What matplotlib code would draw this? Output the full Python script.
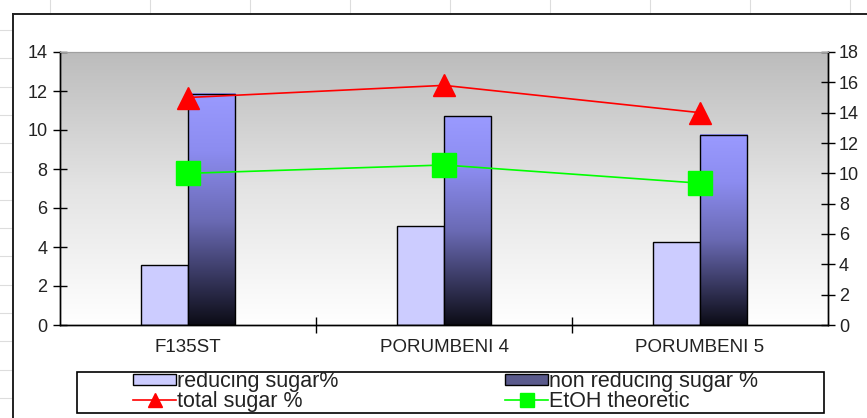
import matplotlib.pyplot as plt
import numpy as np
from matplotlib.colors import LinearSegmentedColormap
from matplotlib.lines import Line2D
from matplotlib.patches import Patch, Rectangle

plt.rcParams['font.family'] = ['Liberation Sans', 'DejaVu Sans']

# data
categories = ['F135ST', 'PORUMBENI 4', 'PORUMBENI 5']
reducing = [3.1, 5.1, 4.25]
non_reducing = [11.85, 10.7, 9.75]
total_sugar = [15.0, 15.8, 14.0]
etoh = [10.0, 10.55, 9.35]
left_ticks = list(range(0, 15, 2))
right_ticks = list(range(0, 19, 2))

W, H = 867, 418
fig = plt.figure(figsize=(W / 100, H / 100), dpi=100)


def fx(px):
    return px / W


def fy(py):
    return 1 - py / H


# spreadsheet cells behind the chart
for gx in range(50, 870, 100):
    fig.add_artist(Line2D([fx(gx), fx(gx)], [fy(0), fy(14)], color='#dddddd', lw=0.8))
for gy in np.arange(30, 418, 28.3):
    fig.add_artist(Line2D([fx(0), fx(12)], [fy(gy), fy(gy)], color='#dddddd', lw=0.8))
# chart area border
fig.add_artist(Line2D([fx(13), fx(867)], [fy(14), fy(14)], color='#202020', lw=1.4))
fig.add_artist(Line2D([fx(13), fx(13)], [fy(14), fy(418)], color='#202020', lw=1.4))

ax = fig.add_axes([fx(60), fy(325), fx(828) - fx(60), fy(52) - fy(325)])
ax2 = ax.twinx()

x = np.arange(len(categories))
bw = 0.184
grad = np.linspace(0, 1, 256).reshape(-1, 1)

# plot area gradient
bg = LinearSegmentedColormap.from_list('bg', ['#ffffff', '#e4e4e4', '#bcbcbc'])
ax.imshow(grad, cmap=bg, aspect='auto', extent=[-0.5, 2.5, 0, 14],
          origin='lower', zorder=0, interpolation='bilinear')

ax.bar(x - bw / 2, reducing, bw, color='#ccccff', edgecolor='black', lw=1, zorder=2)

barcmap = LinearSegmentedColormap.from_list(
    'bar', [(0, '#0c0c16'), (0.45, '#6a6ab4'), (0.75, '#8c8cf0'), (1, '#9a9aff')])
for xi, v in zip(x, non_reducing):
    ax.imshow(grad, cmap=barcmap, aspect='auto', extent=[xi, xi + bw, 0, v],
              origin='lower', zorder=2, interpolation='bilinear')
ax.bar(x + bw / 2, non_reducing, bw, fill=False, edgecolor='black', lw=1, zorder=3)

ax.set_xlim(-0.5, 2.5)
ax.set_ylim(0, 14)
ax.set_yticks(left_ticks)
ax.set_xticks([0.5, 1.5])
ax.set_xticklabels([])
ax.set_xticks(x, minor=True)
ax.set_xticklabels(categories, minor=True, fontsize=13.5, color='#222222')
ax.tick_params(axis='x', which='minor', length=0, pad=10)
ax.tick_params(axis='x', which='major', direction='inout', length=12, width=1)
ax.tick_params(axis='y', direction='inout', length=10, width=1, labelsize=13,
               pad=4, labelcolor='#222222')

ax2.plot(x, total_sugar, color='#ff0000', lw=1.2, marker='^', ms=16, zorder=5)
ax2.plot(x, etoh, color='#00ff00', lw=1.2, marker='s', ms=17, zorder=5)
ax2.set_ylim(0, 18)
ax2.set_yticks(right_ticks)
ax2.tick_params(axis='y', direction='inout', length=10, width=1, labelsize=13,
                pad=3, labelcolor='#222222')

for a in (ax, ax2):
    a.spines['top'].set_color('#a0a0a0')
    a.spines['top'].set_linewidth(0.8)
    for s in ('left', 'bottom', 'right'):
        a.spines[s].set_color('black')
        a.spines[s].set_linewidth(1)

# legend
fig.add_artist(Rectangle((fx(77), fy(413)), fx(824) - fx(77), fy(372) - fy(413),
                         transform=fig.transFigure, fill=False,
                         edgecolor='black', lw=1.2))
leg_kw = dict(loc='upper left', frameon=False, fontsize=15.5, borderpad=0,
              borderaxespad=0, handlelength=2.0, handleheight=0.45,
              handletextpad=0.05, labelspacing=-0.05, labelcolor='#222222')
h1 = [Patch(facecolor='#ccccff', edgecolor='black', lw=1),
      Line2D([], [], color='#ff0000', marker='^', ms=10, lw=1.2)]
h2 = [Patch(facecolor='#5a5a8c', edgecolor='black', lw=1),
      Line2D([], [], color='#00ff00', marker='s', ms=10, lw=1.2)]
l1 = fig.legend(h1, ['reducing sugar%', 'total sugar %'],
                bbox_to_anchor=(fx(133), fy(371)), **leg_kw)
l2 = fig.legend(h2, ['non reducing sugar %', 'EtOH theoretic'],
                bbox_to_anchor=(fx(505), fy(371)), **leg_kw)

fig.savefig('out.png', dpi=100)
